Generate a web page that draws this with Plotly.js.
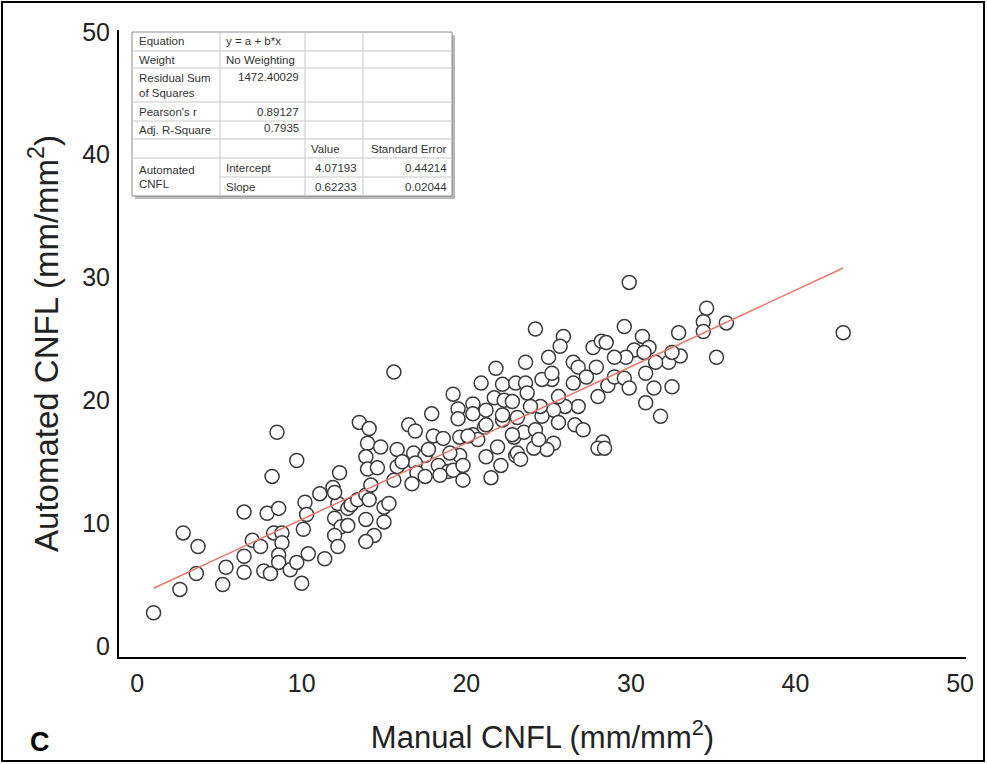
<!DOCTYPE html>
<html>
<head>
<meta charset="utf-8">
<script src="https://cdn.plot.ly/plotly-3.0.1.min.js"></script>
<style>
  html, body { margin: 0; padding: 0; background: #fff; }
  #wrap { position: relative; width: 987px; height: 764px; }
  #chart { width: 987px; height: 764px; }
  #frame { position: absolute; left: 1px; top: 1px; width: 984px; height: 761px; border: 2px solid #000; box-sizing: border-box; pointer-events: none; }
</style>
</head>
<body>
<div id="wrap">
  <div id="chart"></div>
  <div id="frame"></div>
</div>
<script>
// ---- Data ----
const manualCNFL = [
  1.0, 2.6, 2.8, 3.7, 3.6, 5.2, 5.4, 6.5, 6.5, 6.5, 7.0, 7.5, 7.7, 8.1, 7.9, 8.6, 8.3, 8.8, 8.8, 8.6,
  8.6, 8.5, 8.2, 9.7, 9.3, 9.7, 10.0, 10.4, 10.1, 10.2, 10.3, 11.1, 11.4, 11.9, 12.3, 12.2, 12.0, 12.4, 12.0, 12.2,
  12.8, 12.8, 12.0, 13.0, 13.4, 13.9, 14.1, 13.9, 14.4, 13.9, 15.0, 15.3, 15.0, 13.5, 14.1, 14.0, 13.9, 14.0, 14.6, 14.8,
  15.8, 15.8, 15.6, 15.6, 16.5, 16.9, 16.8, 17.5, 16.9, 17.0, 16.7, 17.5, 17.9, 18.0, 18.6, 18.3, 18.9, 19.2, 19.5, 19.5,
  19.6, 19.6, 19.2, 19.8, 20.4, 20.4, 20.4, 21.1, 20.7, 20.9, 21.8, 22.2, 21.7, 22.3, 22.8, 23.0, 22.2, 22.9, 21.9, 21.2,
  22.1, 21.5, 23.0, 20.1, 19.8, 18.4, 17.7, 16.1, 14.2, 19.0, 29.9, 24.2, 25.9, 25.7, 25.0, 23.6, 29.6, 30.7, 31.1, 30.2,
  29.7, 29.0, 27.7, 28.2, 28.5, 32.9, 32.3, 31.5, 30.9, 26.5, 26.8, 27.9, 27.3, 26.5, 25.2, 24.6, 23.6, 28.6, 29.0, 29.6,
  29.9, 31.4, 32.5, 30.9, 31.8, 28.0, 26.8, 26.0, 25.6, 25.3, 24.6, 24.5, 23.7, 23.9, 21.2, 22.2, 23.1, 23.5, 22.8, 21.2,
  24.2, 25.6, 26.6, 27.1, 25.3, 24.9, 24.1, 23.1, 23.3, 28.3, 28.0, 28.4, 34.6, 34.4, 34.4, 35.8, 35.2, 33.0, 32.5, 42.9,
  30.8, 25.2, 24.4
];
const automatedCNFL = [
  2.7, 4.6, 9.2, 8.1, 5.9, 5.0, 6.4, 10.9, 7.3, 6.0, 8.6, 8.1, 6.1, 5.9, 10.8, 11.2, 9.2, 9.2, 8.4, 7.4,
  6.8, 17.4, 13.8, 15.1, 6.2, 6.8, 5.1, 7.5, 9.5, 11.7, 10.7, 12.4, 7.1, 12.9, 14.1, 11.6, 10.4, 9.7, 9.0, 8.1,
  9.8, 11.2, 12.5, 11.5, 11.9, 12.3, 11.9, 10.3, 9.0, 8.5, 11.3, 11.6, 10.1, 18.2, 17.7, 16.5, 15.4, 14.4, 14.5, 16.2,
  16.0, 14.6, 13.5, 22.3, 18.0, 17.5, 15.7, 15.5, 14.9, 14.1, 13.2, 13.8, 18.9, 17.1, 16.9, 14.7, 14.2, 20.5, 19.3, 18.5,
  17.0, 15.5, 14.3, 13.5, 19.7, 18.9, 17.2, 17.8, 16.8, 21.4, 22.6, 21.3, 20.2, 20.0, 19.9, 21.4, 18.4, 17.0, 16.2, 15.4,
  14.7, 13.7, 15.5, 17.1, 14.7, 13.9, 16.0, 15.0, 13.1, 15.7, 29.6, 25.8, 25.2, 24.4, 23.5, 23.1, 26.0, 25.2, 24.3, 24.1,
  23.5, 23.5, 24.3, 24.8, 24.7, 25.5, 23.1, 23.1, 22.2, 23.1, 22.7, 22.7, 21.9, 21.4, 21.7, 21.7, 21.4, 21.2, 21.9, 21.8,
  21.0, 21.0, 21.1, 19.8, 18.7, 20.3, 19.5, 19.5, 20.3, 19.2, 18.7, 19.5, 20.6, 19.5, 19.2, 18.8, 18.6, 17.4, 17.2, 18.0,
  17.6, 18.2, 18.0, 17.6, 16.5, 16.0, 16.1, 15.7, 15.2, 16.6, 16.1, 16.1, 27.5, 26.4, 25.6, 26.3, 23.5, 23.6, 23.9, 25.5,
  23.9, 22.2, 16.8
];

// Fit statistics table (text as shown in the reference)
const tableCol1 = ["Equation", "Weight", "Residual Sum", "of Squares", "Pearson's r", "Adj. R-Square", "Automated", "CNFL"];
const fitEquation = "y = a + b*x";
const fitWeight = "No Weighting";
const residualSS = "1472.40029";
const pearsonR = "0.89127";
const adjR2 = "0.7935";
const paramHeaders = ["Value", "Standard Error"];
const paramNames = ["Intercept", "Slope"];
const paramValues = ["4.07193", "0.62233"];
const paramErrors = ["0.44214", "0.02044"];

const intercept = parseFloat(paramValues[0]);
const slope = parseFloat(paramValues[1]);

// ---- Layout helpers (pixel -> paper) ----
const W = 987, H = 764;
const M = { l: 119, r: 21, t: 30, b: 107 };
const PW = W - M.l - M.r, PH = H - M.t - M.b;
const px = x => (x - M.l) / PW;
const py = y => (H - M.b - y) / PH;

// regression line over the range of the data
const xMin = Math.min(...manualCNFL), xMax = Math.max(...manualCNFL);
const fitX = [xMin, xMax];
const fitY = fitX.map(v => intercept + slope * v);

const traces = [
  {
    type: 'scatter', mode: 'markers', x: manualCNFL, y: automatedCNFL,
    marker: { symbol: 'circle', size: 14, color: '#ffffff', line: { color: '#3a3a3a', width: 1.5 } },
    hoverinfo: 'x+y', showlegend: false
  },
  {
    type: 'scatter', mode: 'lines', x: fitX, y: fitY,
    line: { color: '#e8786e', width: 1.5 }, hoverinfo: 'skip', showlegend: false
  }
];

// table geometry (pixels)
const tcols = [132, 220, 305, 363, 452];
const trows = [32, 51, 68, 102, 121, 139, 158, 177, 196];
const shapes = [];
shapes.push({ type: 'rect', xref: 'paper', yref: 'paper', x0: px(tcols[0] + 3), x1: px(tcols[4] + 3), y0: py(trows[8] + 3), y1: py(trows[0] + 3), fillcolor: '#b8b8b8', line: { width: 0 }, layer: 'above' });
shapes.push({ type: 'rect', xref: 'paper', yref: 'paper', x0: px(tcols[0]), x1: px(tcols[4]), y0: py(trows[8]), y1: py(trows[0]), fillcolor: '#ffffff', line: { color: '#8a8a8a', width: 1 }, layer: 'above' });
for (let i = 1; i < trows.length - 1; i++) {
  const startX = (i === 7) ? tcols[1] : tcols[0];
  shapes.push({ type: 'line', xref: 'paper', yref: 'paper', x0: px(startX), x1: px(tcols[4]), y0: py(trows[i]), y1: py(trows[i]), line: { color: '#c8c8c8', width: 1 }, layer: 'above' });
}
for (let j = 1; j < tcols.length - 1; j++) {
  shapes.push({ type: 'line', xref: 'paper', yref: 'paper', x0: px(tcols[j]), x1: px(tcols[j]), y0: py(trows[0]), y1: py(trows[8]), line: { color: '#c8c8c8', width: 1 }, layer: 'above' });
}

const tf = { family: 'Liberation Sans, Arial, sans-serif', size: 11.5, color: '#333333' };
const ann = [];
function txt(text, x, y, anchor) {
  ann.push({ text: text, xref: 'paper', yref: 'paper', x: px(x), y: py(y), xanchor: anchor, yanchor: 'middle', showarrow: false, font: tf });
}
const rc = i => (trows[i] + trows[i + 1]) / 2;
txt(tableCol1[0], 137, rc(0), 'left');
txt(tableCol1[1], 137, rc(1), 'left');
txt(tableCol1[2], 137, 78, 'left');
txt(tableCol1[3], 137, 93, 'left');
txt(tableCol1[4], 137, rc(3), 'left');
txt(tableCol1[5], 137, rc(4), 'left');
txt(tableCol1[6], 137, 170, 'left');
txt(tableCol1[7], 137, 184, 'left');
txt(fitEquation, 224, rc(0), 'left');
txt(fitWeight, 224, rc(1), 'left');
txt(residualSS, 301, 77, 'right');
txt(pearsonR, 301, rc(3), 'right');
txt(adjR2, 301, rc(4) - 2, 'right');
txt(paramHeaders[0], 309, rc(5), 'left');
txt(paramHeaders[1], 449, rc(5), 'right');
txt(paramNames[0], 224, rc(6), 'left');
txt(paramNames[1], 224, rc(7), 'left');
txt(paramValues[0], 359, rc(6), 'right');
txt(paramValues[1], 359, rc(7), 'right');
txt(paramErrors[0], 449, rc(6), 'right');
txt(paramErrors[1], 449, rc(7), 'right');

// panel letter
ann.push({ text: '<b>C</b>', xref: 'paper', yref: 'paper', x: px(40), y: py(742), xanchor: 'center', yanchor: 'middle', showarrow: false, font: { family: 'Liberation Sans, Arial, sans-serif', size: 27, color: '#000' } });

const font = { family: 'Liberation Sans, Arial, sans-serif', color: '#222222' };
const layout = {
  width: W, height: H,
  margin: M,
  paper_bgcolor: '#ffffff', plot_bgcolor: '#ffffff',
  font: font,
  showlegend: false,
  xaxis: {
    range: [-1.1, 50.36], showgrid: false, zeroline: false,
    showline: true, linecolor: '#000', linewidth: 2,
    tickvals: [0, 10, 20, 30, 40, 50], ticks: '', ticklabelstandoff: 3,
    tickfont: { size: 25, color: '#222' },
    automargin: true,
    title: { text: 'Manual CNFL (mm/mm<sup>2</sup>)', font: { size: 31, color: '#222' }, standoff: 30 }
  },
  yaxis: {
    range: [-0.9, 50.15], showgrid: false, zeroline: false,
    showline: true, linecolor: '#000', linewidth: 2,
    tickvals: [0, 10, 20, 30, 40, 50], ticks: '', ticklabelstandoff: 2,
    tickfont: { size: 25, color: '#222' },
    automargin: true,
    title: { text: 'Automated CNFL (mm/mm<sup>2</sup>)', font: { size: 33, color: '#222' }, standoff: 14 }
  },
  shapes: shapes,
  annotations: ann
};

Plotly.newPlot('chart', traces, layout, { displayModeBar: false, staticPlot: true });
</script>
</body>
</html>
